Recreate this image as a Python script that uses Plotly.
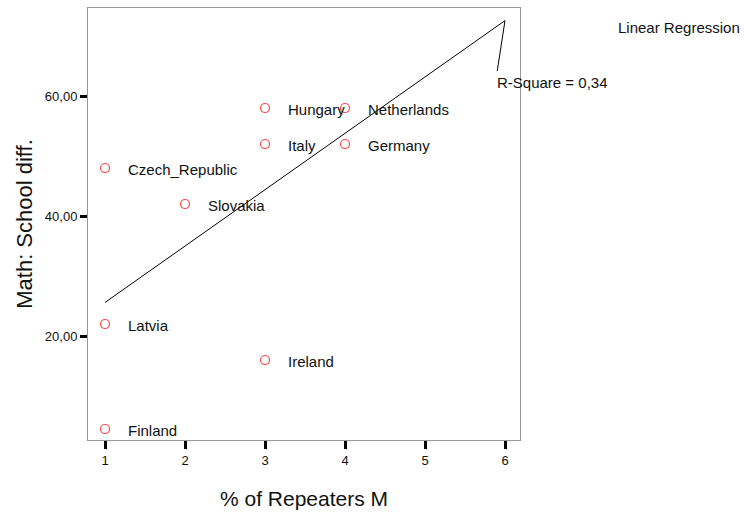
import numpy as np
import plotly.graph_objects as go

countries = ["Finland", "Latvia", "Czech_Republic", "Slovakia", "Ireland",
             "Italy", "Hungary", "Netherlands", "Germany"]
repeaters = [1, 1, 1, 2, 3, 3, 3, 4, 4]
school_diff = [4.5, 22, 48, 42, 16, 52, 58, 58, 52]
x_ticks = [1, 2, 3, 4, 5, 6]
y_ticks = [20, 40, 60]
y_tick_labels = ["20,00", "40,00", "60,00"]
fit_x = [1, 6]

slope, intercept = np.polyfit(repeaters, school_diff, 1)
r2 = np.corrcoef(repeaters, school_diff)[0, 1] ** 2
fit_y = [slope * v + intercept for v in fit_x]

FONT = "Arial, Liberation Sans, sans-serif"

fig = go.Figure()
fig.add_trace(go.Scatter(
    x=fit_x, y=fit_y, mode="lines",
    line=dict(color="black", width=1), hoverinfo="skip", showlegend=False))
fig.add_trace(go.Scatter(
    x=repeaters, y=school_diff, mode="markers",
    marker=dict(symbol="circle-open", size=9, color="#ff4a4a", line=dict(width=1.2)),
    showlegend=False))

for c, xv, yv in zip(countries, repeaters, school_diff):
    fig.add_annotation(x=xv, y=yv, text=c, showarrow=False, xanchor="left",
                       yanchor="middle", xshift=21, yshift=-1,
                       font=dict(family=FONT, size=15, color="#111"))

# leader line for R-square label
fig.add_annotation(x=fit_x[-1], y=fit_y[-1], text="", showarrow=True,
                   arrowhead=0, arrowwidth=1, arrowcolor="black",
                   axref="pixel", ayref="pixel", ax=-8, ay=52)
fig.add_annotation(x=fit_x[-1], y=fit_y[-1], text="R-Square = " + f"{r2:.2f}".replace(".", ","),
                   showarrow=False, xanchor="left", yanchor="middle",
                   xshift=-10, yshift=-62,
                   font=dict(family=FONT, size=15, color="#111"))
fig.add_annotation(xref="paper", yref="paper", x=1.223, y=0.954, text="Linear Regression",
                   showarrow=False, xanchor="left", yanchor="middle",
                   font=dict(family=FONT, size=15, color="#111"))

fig.update_layout(
    width=744, height=514,
    margin=dict(l=88, r=224, t=8, b=74),
    paper_bgcolor="white", plot_bgcolor="white",
    font=dict(family=FONT, color="#111"),
    xaxis=dict(range=[0.7875, 6.1875], tickvals=x_ticks, showgrid=False, zeroline=False,
               showline=True, linecolor="#999", linewidth=1, mirror=True,
               ticks="outside", ticklen=8, tickwidth=3, tickcolor="black",
               tickfont=dict(size=13, color="#111"),
               title=dict(text="% of Repeaters M", font=dict(size=21), standoff=24)),
    yaxis=dict(range=[2.67, 74.67], tickvals=y_ticks, ticktext=y_tick_labels,
               showgrid=False, zeroline=False,
               showline=True, linecolor="#999", linewidth=1, mirror=True,
               ticks="outside", ticklen=7, tickwidth=3, tickcolor="black",
               tickfont=dict(size=13, color="#111"),
               title=dict(text="Math: School diff.", font=dict(size=22), standoff=6)),
)

fig.write_html("out.html")
